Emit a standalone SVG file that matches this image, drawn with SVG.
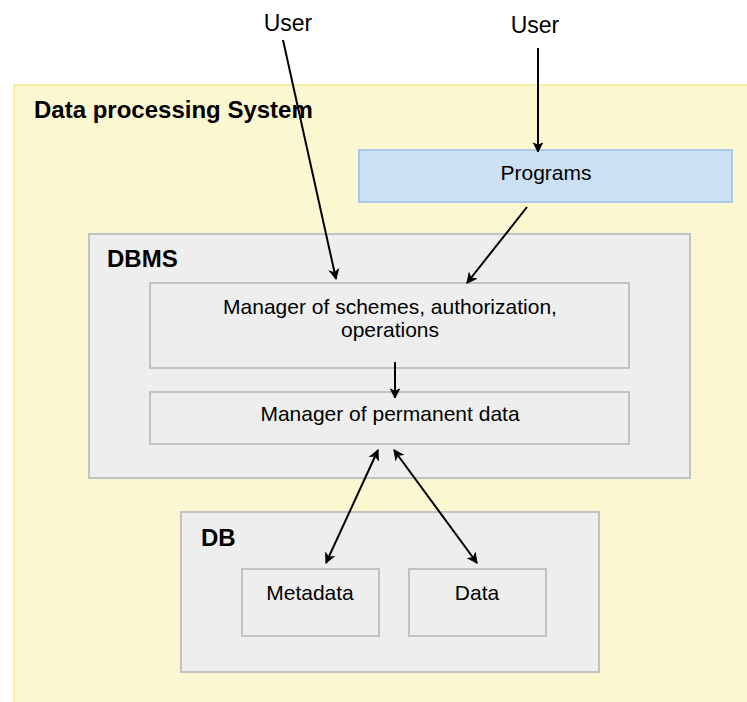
<svg xmlns="http://www.w3.org/2000/svg" width="747" height="702" viewBox="0 0 747 702">
  <style>
    .txt { font-family: "Liberation Sans", Arial, sans-serif; font-size: 21px; fill: #000; }
    .bold { font-family: "Liberation Sans", Arial, sans-serif; font-size: 24px; font-weight: bold; fill: #000; }
    .mid { text-anchor: middle; }
    .gray { fill: #eeeeee; stroke: #c2c2c2; stroke-width: 2; }
    .edge { fill: none; stroke: #000; stroke-width: 2; }
  </style>
  <defs>
    <marker id="arrow" markerUnits="userSpaceOnUse" markerWidth="12" markerHeight="12" viewBox="0 0 12 12" refX="10" refY="6" orient="auto-start-reverse">
      <path d="M1,1.5 L10,6 L1,10.5 L3.5,6 Z" fill="#000" stroke="#000" stroke-width="1"/>
    </marker>
  </defs>

  <rect width="747" height="702" fill="#ffffff"/>

  <g id="system">
    <rect x="14" y="85" width="745" height="640" fill="#fbf7d1" stroke="#f8ef9e" stroke-width="2"/>
    <text class="bold" x="34" y="118">Data processing System</text>
  </g>

  <g id="programs">
    <rect x="359" y="150" width="373" height="52" fill="#cce0f4" stroke="#a7c9eb" stroke-width="2"/>
    <text class="txt mid" x="546" y="180">Programs</text>
  </g>

  <g id="dbms">
    <rect class="gray" x="89" y="234" width="601" height="244"/>
    <text class="bold" x="107" y="267">DBMS</text>
  </g>

  <g id="manager-schemes">
    <rect class="gray" x="150" y="283" width="479" height="85"/>
    <text class="txt mid" x="390" y="314">Manager of schemes, authorization,</text>
    <text class="txt mid" x="390" y="337">operations</text>
  </g>

  <g id="manager-data">
    <rect class="gray" x="150" y="392" width="479" height="52"/>
    <text class="txt mid" x="390" y="421">Manager of permanent data</text>
  </g>

  <g id="db">
    <rect class="gray" x="181" y="512" width="418" height="160"/>
    <text class="bold" x="201" y="546">DB</text>
  </g>

  <g id="metadata">
    <rect class="gray" x="242" y="569" width="137" height="67"/>
    <text class="txt mid" x="310" y="600">Metadata</text>
  </g>

  <g id="data">
    <rect class="gray" x="409" y="569" width="137" height="67"/>
    <text class="txt mid" x="477" y="600">Data</text>
  </g>

  <g id="user-1">
    <text class="txt mid" x="288" y="31" style="font-size:23px">User</text>
  </g>

  <g id="user-2">
    <text class="txt mid" x="535" y="33" style="font-size:23px">User</text>
  </g>

  <g id="connectors">
    <line class="edge" x1="283" y1="40" x2="336" y2="279" marker-end="url(#arrow)"/>
    <line class="edge" x1="538" y1="48" x2="538" y2="152" marker-end="url(#arrow)"/>
    <line class="edge" x1="527" y1="207" x2="467" y2="283" marker-end="url(#arrow)"/>
    <line class="edge" x1="395" y1="362" x2="395" y2="398" marker-end="url(#arrow)"/>
    <line class="edge" x1="378" y1="450" x2="326" y2="563" marker-start="url(#arrow)" marker-end="url(#arrow)"/>
    <line class="edge" x1="394" y1="450" x2="477" y2="563" marker-start="url(#arrow)" marker-end="url(#arrow)"/>
  </g>
</svg>
